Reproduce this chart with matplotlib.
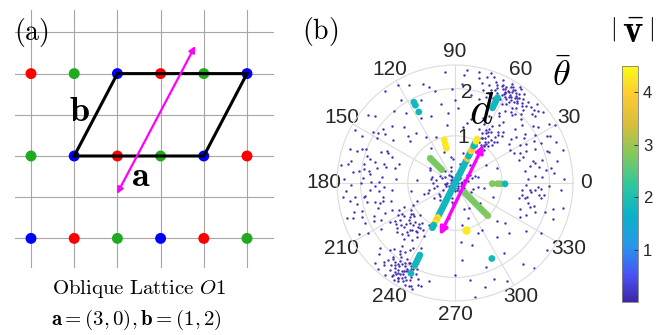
import numpy as np
import matplotlib.pyplot as plt
from matplotlib.colors import LinearSegmentedColormap, Normalize
from matplotlib.cm import ScalarMappable

plt.rcParams['mathtext.fontset'] = 'cm'
plt.rcParams['font.family'] = ['Liberation Sans', 'DejaVu Sans']

# ==========================================
# data: panel (a), oblique lattice a=(3,0), b=(1,2)
# ==========================================
lat_cols = [0, 1, 2, 3, 4, 5]
lat_rows = [2, 0, -2]
row_colors = [
    ['red', 'green', 'blue', 'red', 'green', 'blue'],   # row 2
    ['green', 'blue', 'red', 'green', 'blue', 'red'],   # row 0
    ['blue', 'red', 'green', 'blue', 'red', 'green'],   # row -2
]
cell_x = [1, 4, 5, 2, 1]
cell_y = [0, 0, 2, 2, 0]
arrow_a_start = (1.99, -0.92)
arrow_a_end = (3.80, 2.67)

# ==========================================
# data: panel (b), polar scatter (theta in degrees, r)
# ==========================================
centre_t = [0, 20, 45, 70, 95, 120, 150, 175, 200, 225, 250, 275, 300, 330, 355,
            10, 60, 110, 160, 210, 260, 310, 35, 85, 135, 185, 235, 285, 335,
            15, 75, 140, 195, 245, 320, 50, 100, 170, 230, 290, 5, 65, 125, 185, 245, 305,
            12, 40, 80, 115, 145, 178, 205, 238, 268, 298, 322, 350, 28, 155, 190, 215,
            165, 180, 195, 150, 20, 340, 350, 200, 130, 105, 220, 260, 315, 35]
centre_r = [0.12, 0.2, 0.15, 0.22, 0.1, 0.18, 0.25, 0.08, 0.2, 0.14, 0.24, 0.1, 0.19, 0.23, 0.06,
            0.28, 0.3, 0.27, 0.3, 0.29, 0.33, 0.31, 0.05, 0.17, 0.09, 0.21, 0.26, 0.16, 0.13,
            0.38, 0.42, 0.4, 0.45, 0.36, 0.44, 0.5, 0.55, 0.52, 0.48, 0.58, 0.21, 0.2, 0.21, 0.2,
            0.21, 0.2, 0.15, 0.12, 0.18, 0.14, 0.11, 0.16, 0.13, 0.18, 0.17, 0.12, 0.09, 0.16,
            0.35, 0.34, 0.38, 0.42, 0.5, 0.46, 0.56, 0.62, 0.45, 0.4, 0.62, 0.6, 0.32, 0.36, 0.42,
            0.4, 0.38, 0.3]
inner_t = [153, 170, 176, 321, 15, 200, 215, 260, 280, 300, 340, 20, 110, 125, 95, 190, 240,
           30, 350, 265, 130, 75, 205, 330, 290]
inner_r = [0.6, 0.4, 0.8, 0.68, 0.5, 0.7, 0.55, 0.75, 0.9, 0.6, 0.85, 0.95, 0.7, 0.9, 0.5, 0.95, 0.65,
           0.75, 0.5, 0.45, 0.45, 0.65, 0.9, 0.4, 0.8]
near_t = [56, 46, 57, 50, 52, 67, 60, 54, 48, 62, 58, 44, 64, 53, 59, 49, 55, 61, 47, 63, 51, 57,
          45, 66, 58, 52, 60, 54, 50, 56, 48, 59, 53, 46, 57, 51, 55, 62, 49, 58]
near_r = [1.15, 1.13, 1.29, 1.42, 1.64, 1.5, 1.0, 0.95, 1.05, 1.2, 1.35, 1.25, 1.4, 1.55, 1.1, 1.3,
          1.22, 0.9, 1.48, 1.6, 1.05, 1.7, 1.4, 1.25, 1.75, 1.0, 1.3, 1.08, 1.18, 0.98, 1.36,
          1.12, 1.02, 1.2, 1.45, 1.12, 1.32, 1.08, 0.92, 1.24]
ur_t = [66, 62, 58, 55, 52, 48, 45, 60, 64, 57, 53, 50, 68, 70, 73, 61, 59, 56, 54, 51, 63, 67, 47,
        49, 65, 58, 62, 55, 60, 57, 52, 66, 69, 71, 64, 56, 53, 59, 61, 50,
        57, 59, 55, 61, 58, 54, 60, 56, 62, 53, 63, 51, 65, 49, 58, 56, 60, 54, 47, 68,
        44, 42, 46, 41, 64, 67, 52, 59, 55, 62]
ur_r = [2.2, 2.25, 2.28, 2.2, 2.15, 2.3, 2.28, 2.1, 2.05, 2.35, 2.0, 2.22, 2.3, 2.4, 2.35, 2.18, 1.95,
        2.12, 2.32, 2.05, 1.9, 2.15, 2.1, 1.95, 2.4, 2.2, 2.3, 1.85, 2.42, 2.0, 2.38, 1.98, 2.1, 2.2,
        2.28, 2.45, 2.25, 2.08, 2.15, 1.88,
        2.18, 2.24, 2.26, 2.2, 2.14, 2.22, 2.26, 2.3, 2.12, 2.18, 2.24, 2.28, 2.1, 2.16, 2.33,
        2.06, 2.36, 2.12, 2.22, 2.05, 2.4, 2.2, 2.02, 2.33, 2.32, 2.25, 1.92, 2.38, 2.42, 2.02]
right_t = [35, 30, 25, 40, 20, 32, 28, 38, 42, 22, 18, 27, 33, 36, 24, 15, 12, 8, 5, 2, 358, 355,
           350, 345, 10, 17, 26, 31, 44, 39, 21, 14, 6, 352, 347, 3,
           34, 29, 23, 37, 19, 31, 27, 41, 13, 9, 4, 356, 348, 43, 36, 25, 16, 11, 354, 30]
right_r = [1.8, 1.6, 2.0, 2.2, 1.45, 2.35, 1.9, 1.5, 1.7, 2.3, 2.1, 1.4, 1.75, 2.05, 1.65, 1.9, 2.2,
           1.95, 1.7, 2.3, 2.0, 1.6, 1.85, 2.15, 1.5, 2.4, 2.25, 1.35, 1.95, 2.4, 1.55, 1.75, 2.1,
           1.8, 2.35, 1.55,
           2.12, 1.72, 1.85, 1.62, 2.05, 1.98, 2.18, 1.88, 1.62, 2.05, 1.85, 2.25, 1.52, 2.28,
           1.42, 1.52, 1.72, 1.82, 1.42, 2.45]
lowright_t = [358, 355, 350, 345, 340, 352, 347, 342, 357, 336, 340, 321, 317, 313, 275, 279, 280,
              324, 295, 300, 290, 305, 310, 330, 285, 270, 298, 318, 332, 286,
              353, 349, 344, 338, 356, 342, 308, 326, 292, 276]
lowright_r = [1.5, 1.7, 1.45, 1.6, 1.8, 1.9, 1.4, 2.0, 1.75, 1.65, 2.2, 1.36, 1.55, 2.45, 1.64, 2.08,
              2.45, 2.4, 1.17, 1.15, 1.9, 1.8, 2.25, 2.1, 1.35, 1.95, 2.35, 1.2, 1.55, 2.3,
              1.62, 1.55, 1.75, 1.48, 1.82, 1.68, 1.45, 1.82, 2.2, 1.25]
ll_t = [226, 230, 235, 240, 245, 249, 232, 238, 243, 228, 236, 241, 247, 234, 239, 244, 229, 233,
        237, 242, 246, 231, 240, 236, 250, 225, 238, 243, 235, 241, 230, 248, 233, 239, 227, 244,
        237, 242,
        236, 239, 241, 238, 234, 240, 237, 243, 235, 242, 232, 245, 231, 239, 236, 244, 229, 247,
        233, 238, 240, 234, 223, 221, 252, 255, 246, 242, 236, 239, 241, 228]
ll_r = [1.98, 2.05, 2.1, 2.15, 2.2, 2.18, 1.9, 2.0, 2.3, 2.25, 2.35, 1.95, 2.1, 1.8, 2.25, 2.4, 2.15,
        2.3, 2.05, 2.12, 2.0, 1.85, 2.4, 1.7, 2.3, 2.4, 1.9, 2.05, 2.2, 2.3, 1.75, 2.42, 2.45, 2.35,
        1.9, 1.85, 2.2, 1.98,
        2.12, 2.18, 2.08, 2.26, 2.16, 2.22, 2.3, 2.14, 2.02, 2.36, 2.2, 2.26, 2.08, 2.06, 2.38,
        2.02, 2.3, 2.36, 2.1, 2.42, 1.96, 1.94, 2.2, 2.1, 2.3, 2.15, 2.4, 2.25, 2.28, 2.34, 2.12,
        2.44]
llmid_t = [205, 210, 215, 220, 225, 230, 235, 240, 212, 218, 224, 228, 232, 238, 208, 214, 222, 227,
           233, 242, 216, 220, 226, 231, 236, 203, 211, 219, 229, 237,
           213, 217, 221, 209, 224, 226, 219, 232, 206, 215, 228, 222, 218, 211, 230]
llmid_r = [1.2, 1.3, 1.15, 1.35, 1.25, 1.1, 1.4, 1.3, 1.5, 1.45, 1.55, 1.6, 1.2, 1.05, 1.0, 1.4, 1.0,
           1.35, 1.5, 1.55, 1.1, 1.6, 1.45, 1.3, 1.2, 1.45, 1.6, 1.25, 1.15, 1.65,
           1.28, 1.2, 1.42, 1.38, 1.18, 1.38, 1.12, 1.32, 1.32, 1.52, 1.48, 1.27, 1.55, 1.1, 1.22]
left_t = [150, 155, 160, 165, 170, 175, 180, 185, 190, 195, 200, 205, 152, 158, 163, 168, 172, 178,
          183, 188, 193, 198, 203, 208, 157, 162, 167, 173, 177, 182, 187, 192, 197, 202, 166, 176,
          186, 196, 171, 181, 191, 161, 153, 207,
          159, 164, 169, 174, 179, 184, 189, 194, 199, 204, 156, 162, 168, 174, 186, 192, 198,
          148, 145, 210, 212, 179, 171, 188, 165, 196]
left_r = [1.9, 1.6, 2.1, 1.75, 2.3, 1.55, 2.0, 1.8, 2.25, 1.65, 2.1, 1.9, 2.4, 1.45, 1.95, 2.25, 1.85,
          2.35, 1.5, 2.15, 1.75, 2.4, 1.6, 2.3, 1.7, 2.35, 1.5, 2.05, 1.95, 1.7, 2.4, 1.9, 2.05, 1.85,
          1.3, 1.25, 1.35, 1.4, 2.45, 2.2, 1.55, 1.25, 2.2, 1.75,
          2.02, 1.88, 1.68, 2.18, 1.62, 2.32, 1.95, 1.58, 2.28, 2.08, 1.55, 2.18, 1.98, 1.82,
          1.62, 2.12, 1.72, 2.05, 1.82, 2.12, 1.85, 1.78, 1.95, 1.92, 1.55, 2.22]
upleft_t = [95, 100, 105, 110, 115, 120, 125, 130, 135, 140, 145, 118, 128, 138, 98, 108, 112, 122,
            132, 142, 147, 102, 127, 137, 113, 96, 123, 143]
upleft_r = [2.35, 1.7, 2.1, 1.5, 2.3, 2.4, 1.8, 2.0, 1.4, 2.2, 1.6, 1.55, 1.35, 1.8, 1.25, 2.2, 1.9,
            1.15, 1.6, 2.35, 1.95, 2.0, 2.45, 1.3, 1.05, 1.5, 2.1, 1.9]
top_t = [75, 78, 80, 85, 88, 92, 72, 76, 82, 86, 90, 74, 79, 84, 70, 77, 73]
top_r = [2.2, 2.4, 1.9, 2.3, 1.6, 2.0, 2.45, 1.4, 1.2, 2.1, 1.75, 1.85, 1.3, 2.4, 1.95, 2.28, 2.05]

# coloured tracks: radius and |v| along the main diagonal through the centre
main_up_r = [0.04, 0.10, 0.16, 0.22, 0.28, 0.34, 0.40, 0.46, 0.52, 0.58, 0.64, 0.70, 0.76, 0.82,
             0.88, 0.94, 0.99, 1.04]
main_up_v = [1.8, 1.8, 1.8, 1.8, 1.8, 1.8, 1.8, 1.8, 1.8, 3.9, 1.8, 1.8, 4.0, 3.8, 1.8, 1.8, 4.3, 4.3]
main_dn_r = [0.04, 0.10, 0.16, 0.22, 0.28, 0.34, 0.40, 0.46, 0.52, 0.58, 0.64, 0.70, 0.76, 0.82,
             0.88, 0.94, 1.00, 1.06]
main_dn_v = [1.8, 1.8, 1.8, 1.8, 1.8, 1.8, 1.8, 1.8, 1.8, 1.8, 1.8, 1.8, 1.8, 4.2, 3.9, 4.3, 1.8, 1.8]
main_up_angle = 63.2
main_dn_angle = 243.2

# other tracks: angle, radius, |v|
trk_t = [63.5, 63.5, 63.5, 63.5, 63.5,
         244, 244, 244, 244, 244, 244,
         117, 117, 117,
         104, 104, 104,
         135, 135, 135, 135, 135, 135, 135,
         315, 315, 315, 315, 315, 315, 315, 315, 315, 315, 315,
         359, 359, 359, 359,
         296]
trk_r = [1.78, 1.84, 1.90, 1.96, 2.02,
         1.70, 1.76, 1.82, 1.88, 1.94, 2.13,
         1.69, 1.85, 1.92,
         0.76, 0.85, 0.94,
         0.40, 0.46, 0.52, 0.58, 0.64, 0.70, 0.74,
         0.30, 0.37, 0.44, 0.51, 0.58, 0.65, 0.72, 0.79, 0.86, 0.93, 0.98,
         0.79, 0.90, 0.96, 1.06,
         1.78]
trk_v = [1.8, 1.8, 1.8, 1.8, 1.8,
         1.8, 1.8, 1.8, 1.8, 1.8, 1.8,
         1.8, 1.8, 1.8,
         4.3, 4.3, 4.3,
         2.75, 2.75, 2.75, 2.75, 2.75, 2.75, 2.75,
         2.75, 2.75, 2.75, 2.75, 2.75, 2.75, 2.75, 2.75, 2.75, 2.8, 2.85,
         2.8, 2.8, 2.8, 1.8,
         1.8]
big_t = [283]
big_r = [1.02]
big_v = [4.3]

arrow_b_start = (253.9, 1.15)
arrow_b_end = (53.3, 1.01)

theta_ticks = [0, 30, 60, 90, 120, 150, 180, 210, 240, 270, 300, 330]
cbar_ticks = [1, 2, 3, 4]

# MATLAB-like parula
parula = LinearSegmentedColormap.from_list('parula', [
    (0.000, (0.2422, 0.1504, 0.6603)),
    (0.111, (0.2810, 0.3228, 0.9579)),
    (0.238, (0.1540, 0.5902, 0.9218)),
    (0.365, (0.0383, 0.6974, 0.7894)),
    (0.492, (0.1709, 0.7798, 0.6243)),
    (0.619, (0.4968, 0.7869, 0.3764)),
    (0.746, (0.8287, 0.7428, 0.2314)),
    (0.873, (0.9932, 0.7887, 0.2003)),
    (1.000, (0.9769, 0.9839, 0.0805)),
])
norm = Normalize(0, 4.5)

fig = plt.figure(figsize=(6.66, 3.35), dpi=100)

# ==========================================
# panel (a)
# ==========================================
ax_a = fig.add_axes([0, 0, 290 / 666, 1])
ax_a.set_xlim(-31 / 43.2, 259 / 43.2)
ax_a.set_ylim(-179 / 41.2, 156 / 41.2)
ax_a.axis('off')

for c in range(6):
    ax_a.plot([c, c], [-2.7, 3.54], color='#a6a6a6', lw=0.8, zorder=1)
for r in range(-2, 4):
    ax_a.plot([-0.37, 5.6], [r, r], color='#a6a6a6', lw=0.8, zorder=1)

green = '#1faa1f'
for row, cols in zip(lat_rows, row_colors):
    cc = [green if k == 'green' else k for k in cols]
    ax_a.scatter(lat_cols, [row] * len(lat_cols), s=62, c=cc, zorder=2, linewidths=0)

ax_a.plot(cell_x, cell_y, color='black', lw=2.2, zorder=3, solid_joinstyle='miter')
ax_a.annotate('', xy=arrow_a_end, xytext=arrow_a_start,
              arrowprops=dict(arrowstyle='<|-|>', color='#ff00ff', lw=1.6,
                              mutation_scale=9, shrinkA=0, shrinkB=0), zorder=4)

ax_a.text(1.11, 1.09, r'$\mathbf{b}$', fontsize=26, ha='center', va='center')
ax_a.text(2.55, -0.5, r'$\mathbf{a}$', fontsize=26, ha='center', va='center')
ax_a.text(0.0, 3.0, r'$\mathrm{(a)}$', fontsize=20, ha='center', va='center')
ax_a.text(2.5, -3.24, r'$\mathrm{Oblique\ Lattice}\ \mathit{O1}$', fontsize=15,
          ha='center', va='center')
ax_a.text(2.45, -3.98, r'$\mathbf{a}=(3,0),\mathbf{b}=(1,2)$', fontsize=15,
          ha='center', va='center')

# ==========================================
# panel (b)
# ==========================================
ax = fig.add_axes([0.506, 0.1015, 0.3544, 0.7045], projection='polar')
ax.set_ylim(0, 2.5)
ax.set_rgrids([1, 2], labels=['', ''])
ax.set_thetagrids(theta_ticks, labels=[str(t) for t in theta_ticks],
                  fontsize=15, color='#262626')
ax.tick_params(axis='x', pad=-1)
ax.grid(color='#dcdcdc', lw=0.8)
ax.spines['polar'].set_color('#dcdcdc')
ax.spines['polar'].set_linewidth(0.8)

dot_t = (centre_t + inner_t + near_t + ur_t + right_t + lowright_t + ll_t + llmid_t
         + left_t + upleft_t + top_t)
dot_r = (centre_r + inner_r + near_r + ur_r + right_r + lowright_r + ll_r + llmid_r
         + left_r + upleft_r + top_r)
ax.scatter(np.deg2rad(dot_t), dot_r, s=3, color=parula(norm(0.1)), linewidths=0, zorder=2)

ax.scatter(np.deg2rad([main_up_angle] * len(main_up_r)), main_up_r, s=24, c=main_up_v,
           cmap=parula, norm=norm, linewidths=0, zorder=3)
ax.scatter(np.deg2rad([main_dn_angle] * len(main_dn_r)), main_dn_r, s=24, c=main_dn_v,
           cmap=parula, norm=norm, linewidths=0, zorder=3)
ax.scatter(np.deg2rad(trk_t), trk_r, s=24, c=trk_v, cmap=parula, norm=norm,
           linewidths=0, zorder=3)
ax.scatter(np.deg2rad(big_t), big_r, s=36, c=big_v, cmap=parula, norm=norm,
           linewidths=0, zorder=3)

ax.annotate('', xy=(np.deg2rad(arrow_b_end[0]), arrow_b_end[1]),
            xytext=(np.deg2rad(arrow_b_start[0]), arrow_b_start[1]),
            arrowprops=dict(arrowstyle='<|-|>', color='#ff00ff', lw=2.4,
                            mutation_scale=11, shrinkA=0, shrinkB=0), zorder=4)

ax.text(np.deg2rad(80), 0.97, '1', fontsize=15, color='#262626', ha='center', va='center')
ax.text(np.deg2rad(82.5), 1.94, '2', fontsize=15, color='#262626', ha='center', va='center')

fig.text(320 / 666, 1 - 32 / 335, r'$\mathrm{(b)}$', fontsize=20, ha='center', va='center')
fig.text(482 / 666, 1 - 111 / 335, r'$d$', fontsize=32, ha='center', va='center')
fig.text(562 / 666, 1 - 76 / 335, r'$\bar{\theta}$', fontsize=26, ha='center', va='center')

# colorbar
cax = fig.add_axes([622 / 666, 33 / 335, 16 / 666, 236 / 335])
sm = ScalarMappable(norm=norm, cmap=parula)
cb = fig.colorbar(sm, cax=cax, ticks=cbar_ticks)
cb.ax.tick_params(labelsize=12, direction='in', length=3, colors='#262626', width=0.6)
cb.outline.set_edgecolor('#808080')
cb.outline.set_linewidth(0.6)
fig.text(632 / 666, 1 - 32 / 335, r'$\left|\,\bar{\mathbf{v}}\,\right|$', fontsize=28,
         ha='center', va='center')

fig.savefig('out.png', dpi=100)
